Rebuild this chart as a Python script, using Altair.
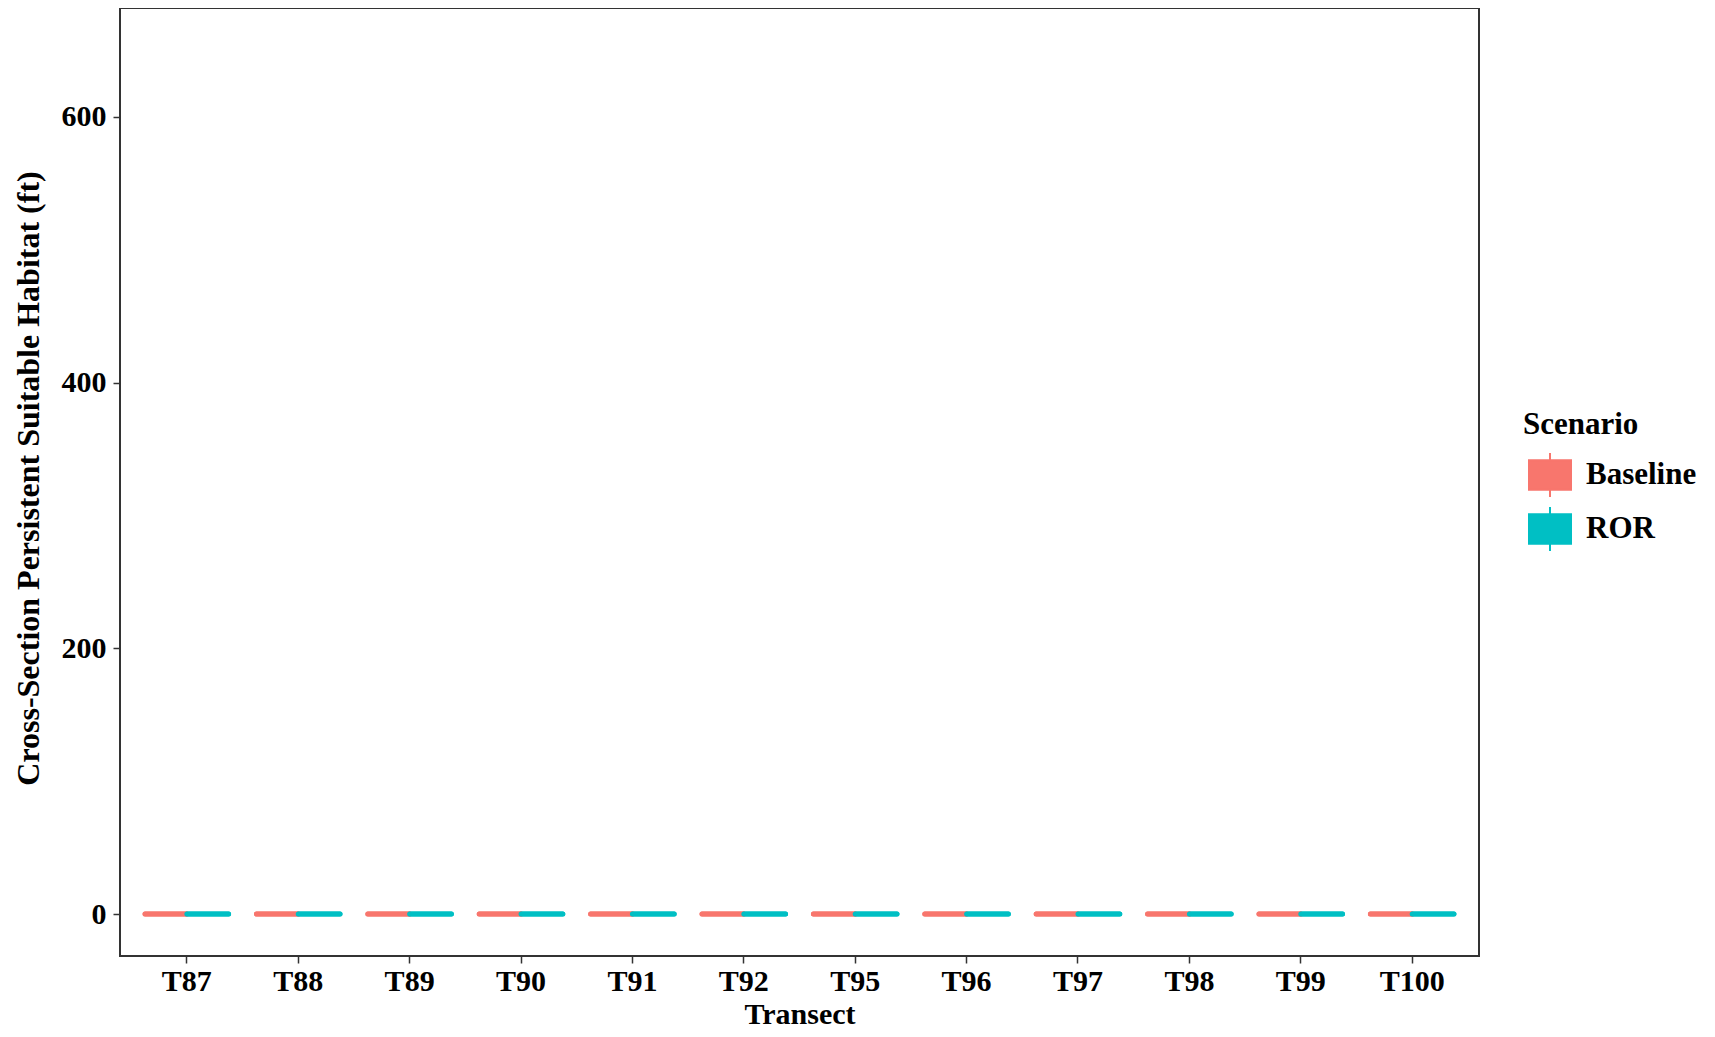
import altair as alt
import pandas as pd

transects = ["T87", "T88", "T89", "T90", "T91", "T92", "T95", "T96", "T97", "T98", "T99", "T100"]
scenarios = ["Baseline", "ROR"]
baseline_values = [0, 0, 0, 0, 0, 0, 0, 0, 0, 0, 0, 0]
ror_values = [0, 0, 0, 0, 0, 0, 0, 0, 0, 0, 0, 0]
colors = ["#F8766D", "#00BFC4"]
y_ticks = [0, 200, 400, 600]

rows = []
for t, v in zip(transects, baseline_values):
    rows.append({"Transect": t, "Scenario": "Baseline", "value": v})
for t, v in zip(transects, ror_values):
    rows.append({"Transect": t, "Scenario": "ROR", "value": v})
df = pd.DataFrame(rows)

FONT = "Liberation Serif"

color_scale = alt.Scale(domain=scenarios, range=colors)
sym = "M-1,-0.7H1V0.7H-1Z M0,-1.05V-0.7 M0,0.7V1.05"

base = alt.Chart(df).transform_aggregate(
    q1="q1(value)", q3="q3(value)", med="median(value)",
    groupby=["Transect", "Scenario"],
)

x_enc = alt.X("Transect:N", sort=transects,
              scale=alt.Scale(paddingInner=0.25, paddingOuter=0.225),
              axis=alt.Axis(title="Transect", labelAngle=0, labelFont=FONT, labelFontSize=30,
                            labelFontWeight="bold", labelColor="black", labelPadding=3,
                            tickColor="#333333", tickSize=7, tickWidth=1.5, domain=False,
                            titleFont=FONT, titleFontSize=30, titleFontWeight="bold",
                            titleColor="black", titleY=58, titleBaseline="middle"))
xo_enc = alt.XOffset("Scenario:N", sort=scenarios,
                     scale=alt.Scale(paddingInner=0, paddingOuter=0))
y_enc = alt.Y("q1:Q", scale=alt.Scale(domain=[-31.6, 682], nice=False, zero=False),
              axis=alt.Axis(title="Cross-Section Persistent Suitable Habitat (ft)", values=y_ticks,
                            grid=False, labelFont=FONT, labelFontSize=30, labelFontWeight="bold",
                            labelColor="black", labelPadding=7, tickColor="#333333", tickSize=7,
                            tickWidth=1.5, domain=False, titleFont=FONT, titleFontSize=32,
                            titleFontWeight="bold", titleColor="black", titleAngle=270,
                            titleX=-92, titleY=470, titleAlign="center", titleBaseline="middle"))

legend = alt.Legend(title="Scenario", orient="none", legendX=1403, legendY=402,
                    titleFont=FONT, titleFontSize=31, titleFontWeight="bold", titleColor="black",
                    labelFont=FONT, labelFontSize=31, labelFontWeight="bold", labelColor="black",
                    symbolType=sym, symbolSize=1764, symbolStrokeWidth=2, symbolOffset=5,
                    labelOffset=14, rowPadding=0, titlePadding=12, padding=0)

boxes = base.mark_bar(strokeWidth=5, strokeJoin="round").encode(
    x=x_enc,
    xOffset=xo_enc,
    y=y_enc,
    y2="q3:Q",
    fill=alt.Fill("Scenario:N", scale=color_scale, legend=legend),
    stroke=alt.Stroke("Scenario:N", scale=color_scale, legend=legend),
)

med = base.mark_bar(strokeWidth=5, strokeJoin="round").encode(
    x=alt.X("Transect:N", sort=transects),
    xOffset=alt.XOffset("Scenario:N", sort=scenarios),
    y="med:Q",
    y2="med:Q",
    fill=alt.Fill("Scenario:N", scale=color_scale, legend=legend),
    stroke=alt.Stroke("Scenario:N", scale=color_scale, legend=legend),
)

chart = alt.layer(boxes, med).properties(
    width=1359, height=948,
    background="white",
    autosize=alt.AutoSizeParams(type="none"),
    padding={"left": 112, "top": 0, "right": 228, "bottom": 73},
).configure_view(stroke="#333333", strokeWidth=2)

chart.save("out.html", embed_options={"renderer": "svg", "actions": False})
